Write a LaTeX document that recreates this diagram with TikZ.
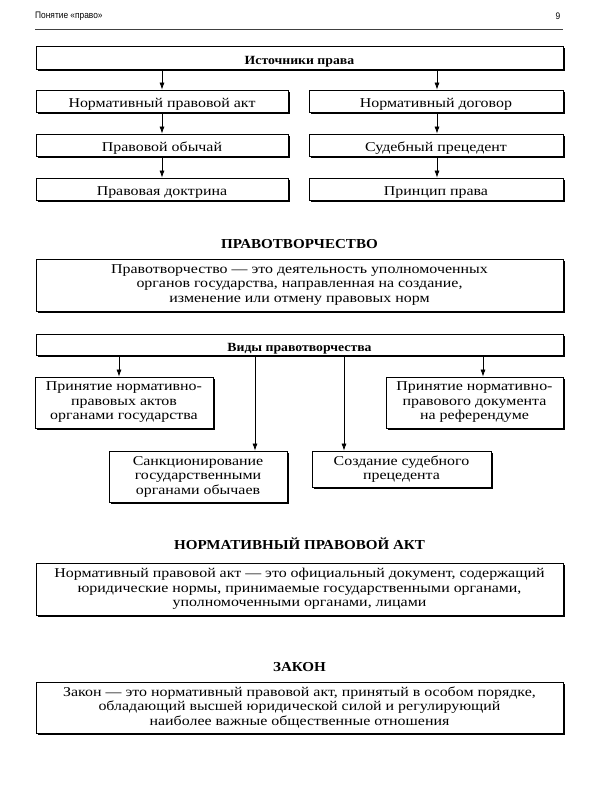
\documentclass[tikz,border=0pt]{standalone}
\usepackage{fontspec}
\setmainfont{Liberation Serif}[FakeStretch=1.18,BoldFeatures={FakeStretch=1.1}]
\newfontfamily\hdrfont{Liberation Sans}[FakeStretch=0.88]
\usetikzlibrary{arrows.meta,shadows}

\begin{document}
\begin{tikzpicture}[x=1pt,y=1pt,yscale=-1,
  box/.style={draw,line width=0.8pt,fill=white,inner xsep=1pt,inner ysep=0pt,align=center,
    font=\fontsize{13.5}{14.5}\selectfont,
    execute at begin node={\rule{0pt}{16pt}},
    drop shadow={shadow xshift=1.6pt,shadow yshift=-1.6pt,fill=black,opacity=1}},
  mbox/.style={box,execute at begin node={\rule{0pt}{17.5pt}}},
  headbox/.style={box,font=\fontsize{12.5}{14.5}\selectfont\bfseries},
  title/.style={inner sep=0pt,font=\fontsize{13.7}{15}\selectfont\bfseries},
  arr/.style={line width=0.7pt,-{Latex[length=7pt,width=5pt]}}]
\useasboundingbox (0,0) rectangle (600,800);

% Page head
\node (hdr) [anchor=west,inner sep=0pt,font=\hdrfont\fontsize{9.5}{10}\selectfont] at (35,16) {Понятие «право»};
\node (pgnum) [inner sep=0pt,font=\hdrfont\fontsize{9.5}{10}\selectfont] at (558,16) {9};
\draw [line width=0.8pt,black!75] (hdr.west |- 0,29) -- (563,29);

% Sources
\node (ist) [headbox,minimum width=527,minimum height=23] at (299.5,57.5) {Источники права};
\node (nla) [box,minimum width=252,minimum height=22] at (162,101) {Нормативный правовой акт};
\node (ndog) [box,minimum width=254,minimum height=22] at (436,101) {Нормативный договор};
\node (obych) [box,minimum width=252,minimum height=22] at (162,145) {Правовой обычай};
\node (sprec) [box,minimum width=254,minimum height=22] at (436,145) {Судебный прецедент};
\node (doktr) [box,minimum width=252,minimum height=22] at (162,189) {Правовая доктрина};
\node (princ) [box,minimum width=254,minimum height=22] at (436,189) {Принцип права};

\coordinate (a1) at (162,0);
\coordinate (a2) at (437,0);
\draw [arr] (ist.south -| a1) -- (nla.north -| a1);
\draw [arr] (ist.south -| a2) -- (ndog.north -| a2);
\draw [arr] (nla.south -| a1) -- (obych.north -| a1);
\draw [arr] (ndog.south -| a2) -- (sprec.north -| a2);
\draw [arr] (obych.south -| a1) -- (doktr.north -| a1);
\draw [arr] (sprec.south -| a2) -- (princ.north -| a2);

% Law making
\node (hdpt) [title] at (299.5,244) {ПРАВОТВОРЧЕСТВО};
\node (defpt) [mbox,minimum width=527,minimum height=52] at (299.5,285) {Правотворчество --- это деятельность уполномоченных\\органов государства, направленная на создание,\\изменение или отмену правовых норм};

\node (vid) [headbox,minimum width=527,minimum height=21] at (299.5,344.5) {Виды правотворчества};
\node (vgos) [mbox,minimum width=178,minimum height=51] at (124,402.5) {Принятие нормативно-\\правовых актов\\органами государства};
\node (vref) [mbox,minimum width=177,minimum height=51] at (474.5,402.5) {Принятие нормативно-\\правового документа\\на референдуме};
\node (vsank) [mbox,minimum width=178,minimum height=51] at (198,476.5) {Санкционирование\\государственными\\органами обычаев};
\node (vsud) [mbox,minimum width=179,minimum height=36] at (401.5,469) {Создание судебного\\прецедента};

\coordinate (b1) at (119,0);
\coordinate (b2) at (255,0);
\coordinate (b3) at (344,0);
\coordinate (b4) at (483,0);
\draw [arr] (vid.south -| b1) -- (vgos.north -| b1);
\draw [arr] (vid.south -| b2) -- (vsank.north -| b2);
\draw [arr] (vid.south -| b3) -- (vsud.north -| b3);
\draw [arr] (vid.south -| b4) -- (vref.north -| b4);

% Normative act
\node (hnpa) [title] at (299.5,544) {НОРМАТИВНЫЙ ПРАВОВОЙ АКТ};
\node (defnpa) [mbox,minimum width=527,minimum height=52] at (299.5,589) {Нормативный правовой акт --- это официальный документ, содержащий\\юридические нормы, принимаемые государственными органами,\\уполномоченными органами, лицами};

% Law
\node (hzak) [title] at (299.5,667) {ЗАКОН};
\node (defzak) [mbox,minimum width=527,minimum height=51] at (299.5,707.5) {Закон --- это нормативный правовой акт, принятый в особом порядке,\\обладающий высшей юридической силой и регулирующий\\наиболее важные общественные отношения};

\end{tikzpicture}
\end{document}
